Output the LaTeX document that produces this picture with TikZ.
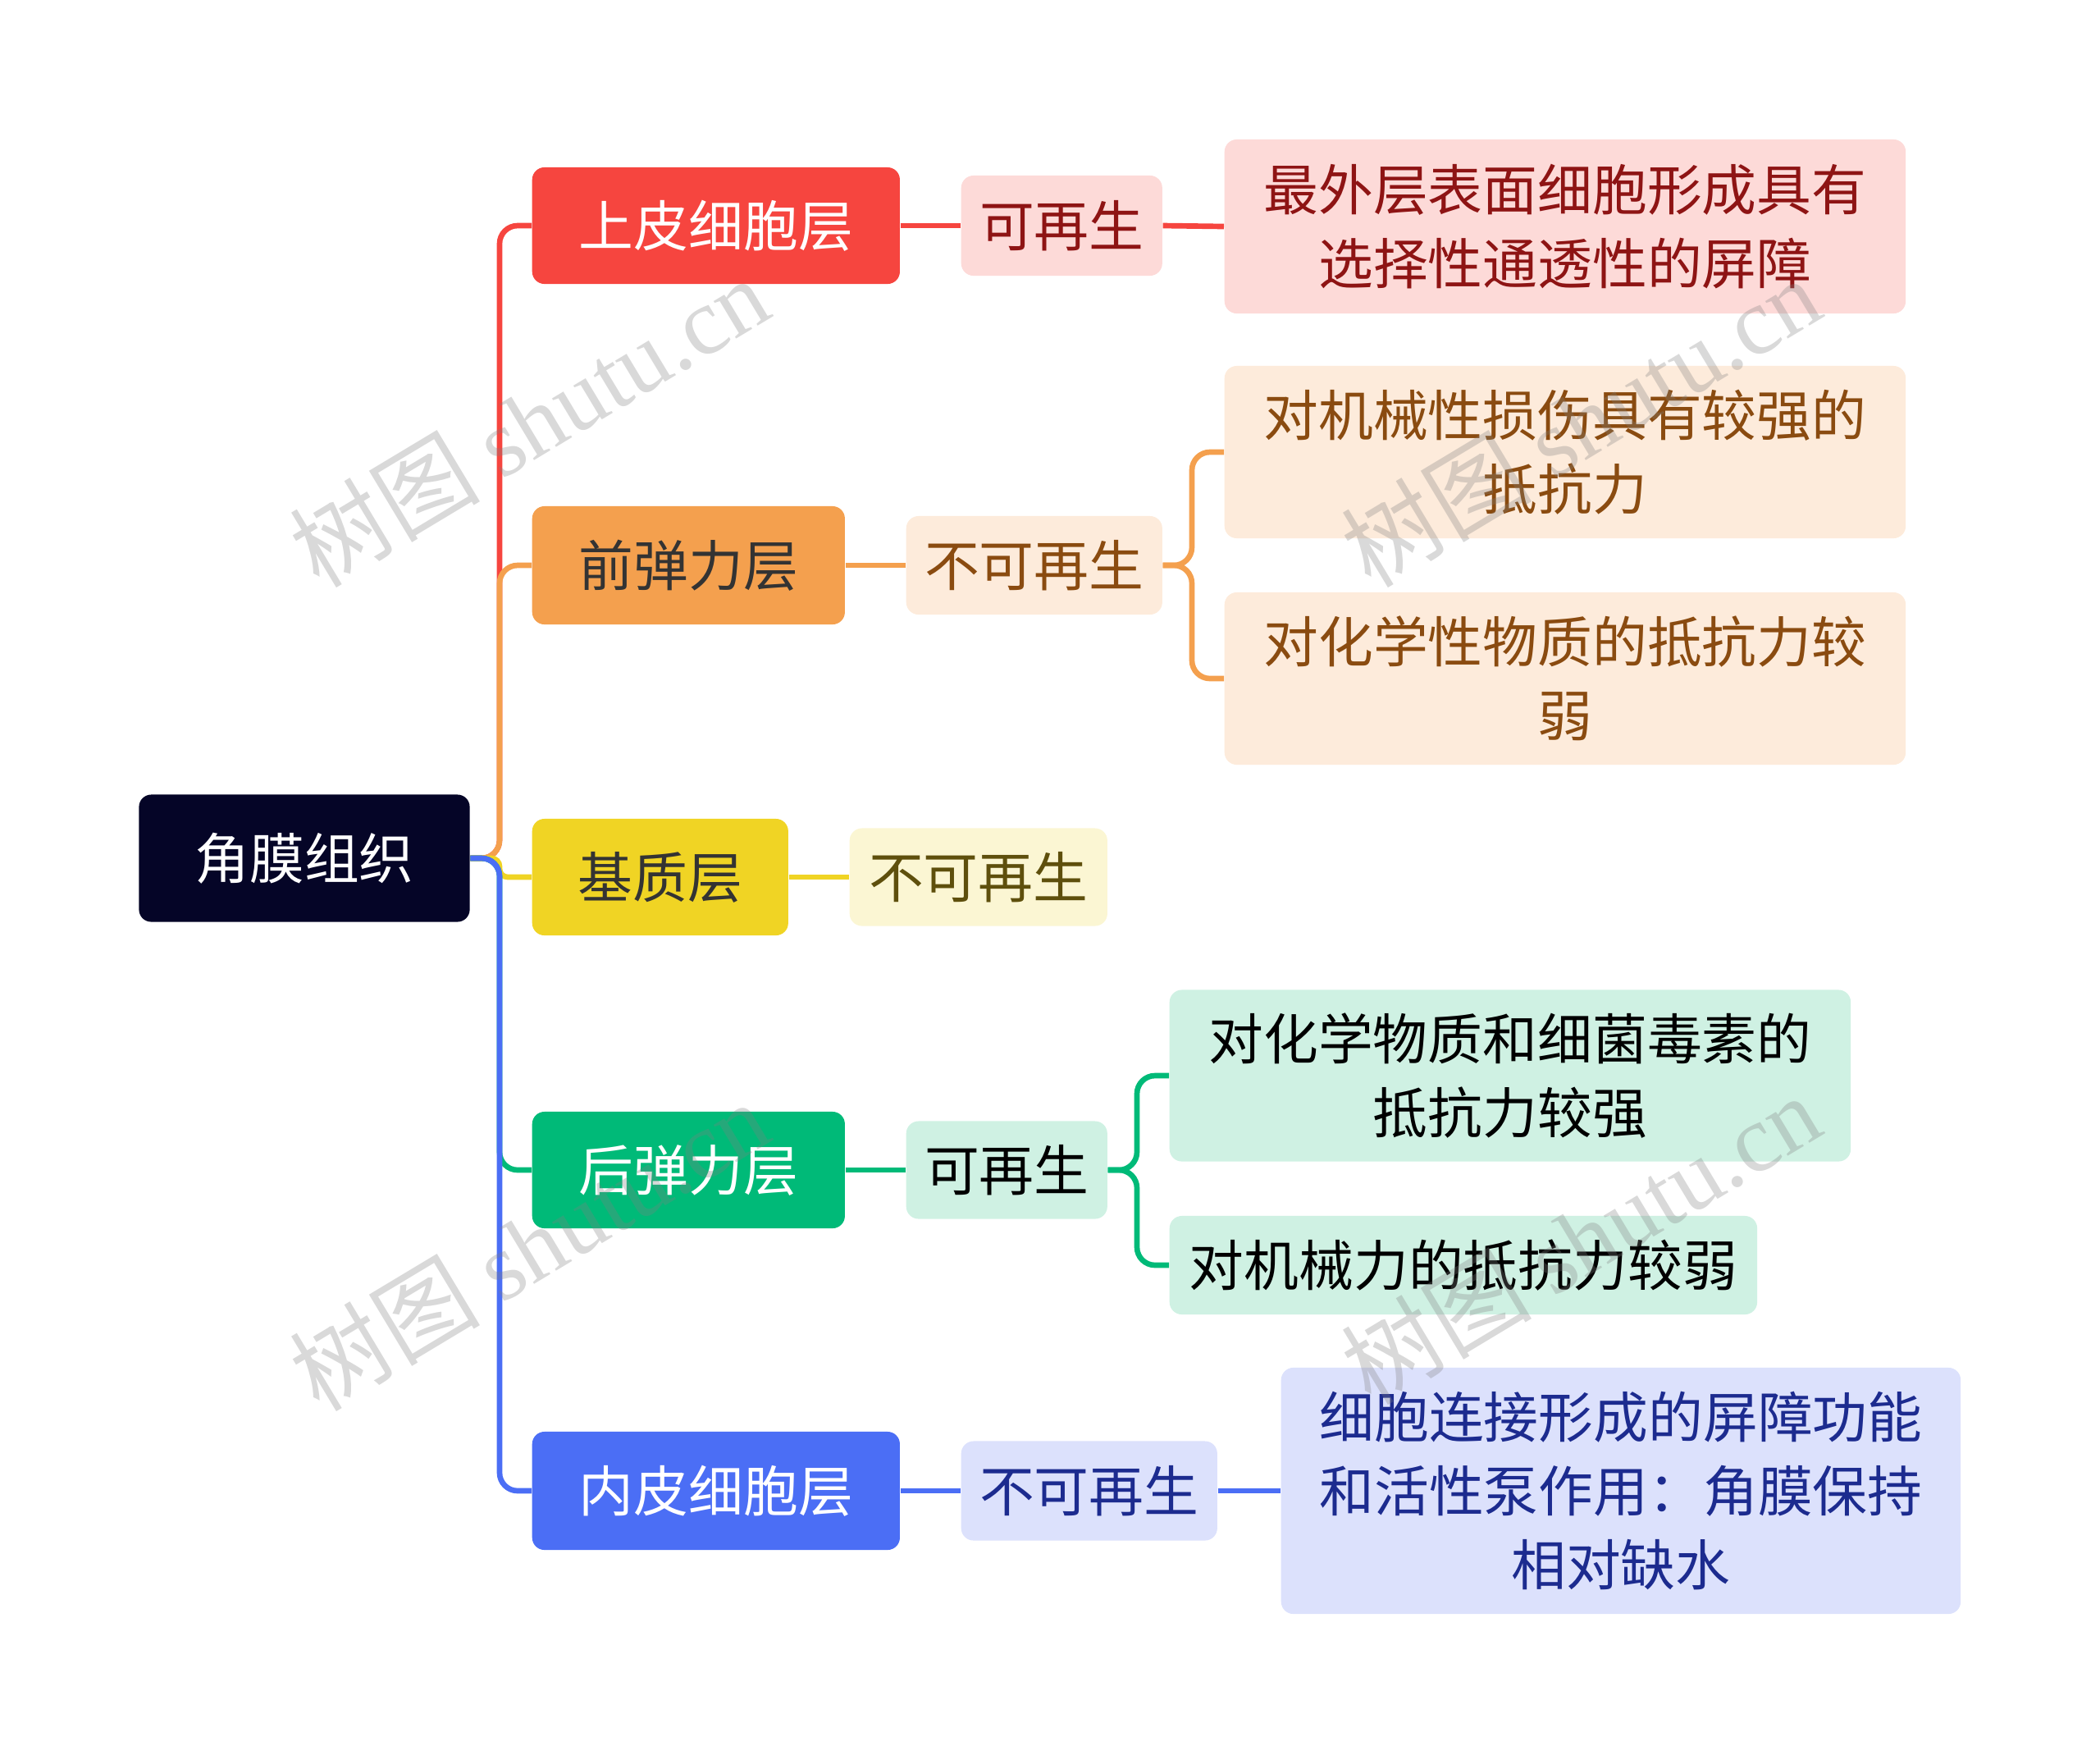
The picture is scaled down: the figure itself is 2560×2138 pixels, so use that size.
\documentclass[tikz,border=0pt]{standalone}
\usepackage{fontspec}
\newfontfamily\cjk{Noto Sans CJK SC}
\newfontfamily\wmserif{Liberation Serif}

\definecolor{rootC}{HTML}{050527}
\definecolor{epiC}{HTML}{F6453F}
\definecolor{epiL}{HTML}{FDDAD8}
\definecolor{epiT}{HTML}{8E1414}
\definecolor{bowC}{HTML}{F4A04E}
\definecolor{bowL}{HTML}{FDEBDB}
\definecolor{bowT}{HTML}{8A4B10}
\definecolor{strC}{HTML}{F0D424}
\definecolor{strL}{HTML}{FBF6D3}
\definecolor{strT}{HTML}{5E4F0C}
\definecolor{desC}{HTML}{00BA78}
\definecolor{desL}{HTML}{CFF1E3}
\definecolor{endC}{HTML}{4B6EF5}
\definecolor{endL}{HTML}{DCE1FC}
\definecolor{endT}{HTML}{1C2B8F}

\tikzset{
  box/.style={rounded corners=0.15cm, inner sep=0pt, align=center, anchor=west,
    font=\cjk\fontsize{19}{25.6}\selectfont},
  link/.style={line width=1.9pt, rounded corners=0.22cm},
  wmark/.style={rotate=31, text=gray, text opacity=0.3,
    font=\cjk\fontsize{33}{38}\selectfont}
}

\begin{document}
\begin{tikzpicture}[x=0.01cm,y=-0.01cm]
  \useasboundingbox (0,0) rectangle (2560,2138);

  % root
  \node[box, anchor=center, fill=rootC, text=white, minimum width=4.03cm, minimum height=1.55cm] (root) at (371,1046) {角膜组织};

  % layers
  \node[box, fill=epiC, text=white, minimum width=4.48cm, minimum height=1.42cm] (epith) at (648,275) {上皮细胞层};
  \node[box, fill=bowC, text=black!80, minimum width=3.81cm, minimum height=1.44cm] (bowman) at (648,689) {前弹力层};
  \node[box, fill=strC, text=black!80, minimum width=3.12cm, minimum height=1.42cm] (stroma) at (648,1069) {基质层};
  \node[box, fill=desC, text=white, minimum width=3.81cm, minimum height=1.42cm] (desc) at (648,1426) {后弹力层};
  \node[box, fill=endC, text=white, minimum width=4.48cm, minimum height=1.44cm] (endoth) at (648,1817) {内皮细胞层};

  % regeneration
  \node[box, fill=epiL, text=epiT, minimum width=2.45cm, minimum height=1.22cm] (epithR) at (1171,275) {可再生};
  \node[box, fill=bowL, text=bowT, minimum width=3.12cm, minimum height=1.2cm] (bowmanR) at (1104,689) {不可再生};
  \node[box, fill=strL, text=strT, minimum width=3.14cm, minimum height=1.19cm] (stromaR) at (1035,1069) {不可再生};
  \node[box, fill=desL, text=black, minimum width=2.45cm, minimum height=1.19cm] (descR) at (1104,1426) {可再生};
  \node[box, fill=endL, text=endT, minimum width=3.12cm, minimum height=1.21cm] (endothR) at (1171,1817) {不可再生};

  % details
  \node[box, fill=epiL, text=epiT, minimum width=8.3cm, minimum height=2.12cm] (epithD) at (1492,276) {最外层表面细胞形成具有\\选择性通透性的屏障};
  \node[box, fill=bowL, text=bowT, minimum width=8.3cm, minimum height=2.1cm] (bowmanD1) at (1492,551) {对机械性损伤具有较强的\\抵抗力};
  \node[box, fill=bowL, text=bowT, minimum width=8.3cm, minimum height=2.1cm] (bowmanD2) at (1492,827) {对化学性物质的抵抗力较\\弱};
  \node[box, fill=desL, text=black, minimum width=8.3cm, minimum height=2.09cm] (descD1) at (1425,1311) {对化学物质和细菌毒素的\\抵抗力较强};
  \node[box, fill=desL, text=black, minimum width=7.16cm, minimum height=1.2cm] (descD2) at (1425,1542) {对机械力的抵抗力较弱};
  \node[box, fill=endL, text=endT, minimum width=8.28cm, minimum height=3cm] (endothD) at (1561,1817) {细胞连接形成的屏障功能\\和活性泵作用：角膜保持\\相对缺水};

  % connectors
  \draw[link, epiC] (root.east) -- (609,1046) |- (epith.west);
  \draw[link, bowC] (root.east) -- (609,1046) |- (bowman.west);
  \draw[link, strC, rounded corners=0.1cm] (root.east) -- (609,1046) |- (stroma.west);
  \draw[link, desC] (root.east) -- (609,1046) |- (desc.west);
  \draw[link, endC] (root.east) -- (609,1046) |- (endoth.west);

  \draw[link, epiC] (epith.east) -- (epithR.west);
  \draw[link, bowC] (bowman.east) -- (bowmanR.west);
  \draw[link, strC] (stroma.east) -- (stromaR.west);
  \draw[link, desC] (desc.east) -- (descR.west);
  \draw[link, endC] (endoth.east) -- (endothR.west);

  \draw[link, epiC] (epithR.east) -- (epithD.west);
  \draw[link, bowC] (bowmanR.east) -- (1453,689) |- (bowmanD1.west);
  \draw[link, bowC] (bowmanR.east) -- (1453,689) |- (bowmanD2.west);
  \draw[link, desC] (descR.east) -- (1386,1426) |- (descD1.west);
  \draw[link, desC] (descR.east) -- (1386,1426) |- (descD2.west);
  \draw[link, endC] (endothR.east) -- (endothD.west);

  % watermarks
  \foreach \wx/\wy in {645/514, 1927/514, 645/1518, 1927/1510}
    \node[wmark] at (\wx,\wy) {树图 {\wmserif shutu.cn}};
\end{tikzpicture}
\end{document}
